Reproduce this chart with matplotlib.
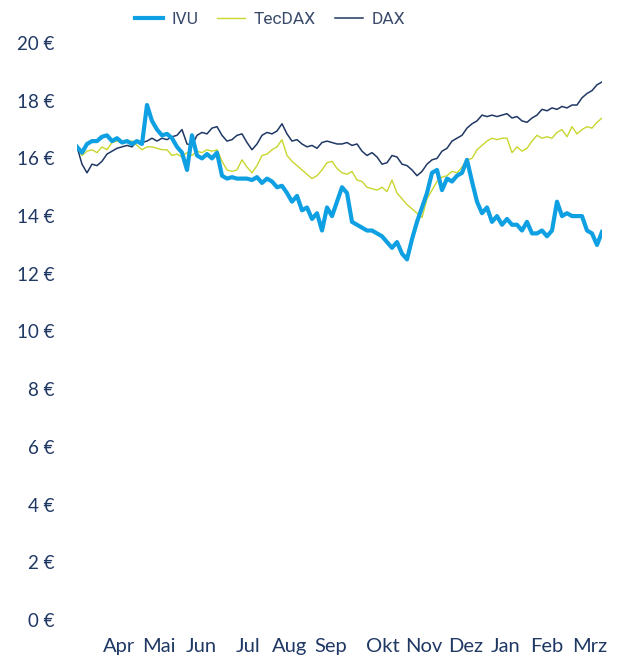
import matplotlib
matplotlib.use("Agg")
import matplotlib.pyplot as plt
import numpy as np

# ---- data (values in EUR, equally spaced observations) ----
ivu = [16.4, 16.2, 16.5, 16.6, 16.6, 16.75, 16.8, 16.6, 16.7, 16.55,
       16.6, 16.5, 16.6, 16.5, 17.85, 17.3, 17.0, 16.8, 16.85, 16.7,
       16.4, 16.2, 15.6, 16.8, 16.1, 16.0, 16.15, 16.0, 16.2, 15.4,
       15.3, 15.35, 15.3, 15.3, 15.3, 15.25, 15.35, 15.15, 15.3, 15.2,
       15.0, 15.05, 14.8, 14.5, 14.7, 14.2, 14.3, 13.9, 14.1, 13.5,
       14.3, 14.0, 14.5, 15.0, 14.8, 13.8, 13.7, 13.6, 13.5, 13.5,
       13.4, 13.3, 13.1, 12.9, 13.1, 12.7, 12.5, 13.2, 13.8, 14.3,
       14.8, 15.5, 15.6, 14.9, 15.3, 15.2, 15.4, 15.5, 15.95, 15.2,
       14.5, 14.1, 14.3, 13.8, 14.0, 13.7, 13.9, 13.7, 13.7, 13.5,
       13.8, 13.4, 13.4, 13.5, 13.3, 13.5, 14.5, 14.0, 14.1, 14.0,
       14.0, 14.0, 13.5, 13.4, 13.0, 13.45]

tecdax = [16.4, 16.1, 16.25, 16.3, 16.2, 16.4, 16.3, 16.55, 16.6, 16.55,
          16.6, 16.6, 16.45, 16.3, 16.4, 16.4, 16.35, 16.3, 16.3, 16.1,
          16.15, 16.05, 16.2, 16.1, 16.25, 16.2, 16.3, 16.25, 16.3, 15.9,
          15.6, 15.55, 15.6, 15.95, 15.7, 15.5, 15.75, 16.1, 16.15, 16.3,
          16.4, 16.65, 16.1, 15.9, 15.75, 15.6, 15.45, 15.3, 15.4, 15.6,
          15.85, 15.9, 15.65, 15.5, 15.45, 15.55, 15.25, 15.2, 15.0, 14.95,
          14.9, 15.0, 14.85, 15.25, 14.8, 14.6, 14.4, 14.25, 14.1, 13.95,
          14.6, 14.9, 15.2, 15.35, 15.4, 15.55, 15.5, 15.7, 15.95, 16.0,
          16.3, 16.45, 16.6, 16.7, 16.65, 16.7, 16.7, 16.2, 16.4, 16.25,
          16.35, 16.6, 16.8, 16.7, 16.75, 16.7, 16.9, 17.0, 16.75, 17.1,
          16.85, 17.0, 17.1, 17.05, 17.25, 17.4]

dax = [16.4, 15.8, 15.5, 15.8, 15.75, 15.9, 16.15, 16.25, 16.35, 16.4,
       16.45, 16.4, 16.6, 16.55, 16.6, 16.7, 16.6, 16.7, 16.65, 16.75,
       16.8, 17.0, 16.5, 16.45, 16.8, 16.9, 16.85, 17.05, 17.1, 16.8,
       16.6, 16.65, 16.8, 16.85, 16.55, 16.3, 16.5, 16.8, 16.9, 16.85,
       16.95, 17.2, 16.85, 16.6, 16.65, 16.5, 16.4, 16.45, 16.35, 16.55,
       16.6, 16.55, 16.5, 16.5, 16.55, 16.45, 16.5, 16.25, 16.1, 16.2,
       16.05, 15.8, 15.85, 16.1, 16.05, 15.8, 15.75, 15.6, 15.4, 15.55,
       15.8, 15.95, 16.0, 16.25, 16.35, 16.6, 16.7, 16.8, 17.05, 17.2,
       17.3, 17.5, 17.45, 17.5, 17.45, 17.5, 17.55, 17.4, 17.45, 17.3,
       17.25, 17.4, 17.5, 17.7, 17.65, 17.75, 17.7, 17.8, 17.75, 17.85,
       17.85, 18.1, 18.25, 18.35, 18.55, 18.65]

months = ["Apr", "Mai", "Jun", "Jul", "Aug", "Sep", "Okt", "Nov", "Dez", "Jan", "Feb", "Mrz"]
y_ticks = [0, 2, 4, 6, 8, 10, 12, 14, 16, 18, 20]
series_names = ["IVU", "TecDAX", "DAX"]

# ---- layout ----
month_pos = [8.4, 16.4, 24.8, 34.2, 42.6, 50.8, 61.2, 69.4, 77.8, 85.8, 94.0, 102.6]

W, H = 623, 659
fig = plt.figure(figsize=(W / 100, H / 100), dpi=100)
ax = fig.add_axes([77 / W, (H - 620) / H, 525 / W, 577 / H])

text_col = "#1f3864"
x = np.arange(len(ivu))
l1, = ax.plot(x, ivu, color="#0ea0e2", lw=3.0, solid_joinstyle="round", zorder=3)
l2, = ax.plot(np.arange(len(tecdax)), tecdax, color="#c8d62e", lw=1.0, zorder=2)
l3, = ax.plot(np.arange(len(dax)), dax, color="#1f3864", lw=1.1, zorder=2)

ax.set_xlim(0, len(ivu) - 1)
ax.set_ylim(0, 20)
ax.set_yticks(y_ticks)
ax.set_yticklabels([f"{v} €" for v in y_ticks])
ax.set_xticks(month_pos)
ax.set_xticklabels(months)
for s in ax.spines.values():
    s.set_visible(False)
ax.tick_params(axis="both", length=0, colors=text_col)
ax.tick_params(axis="y", pad=16, labelsize=13.5)
ax.tick_params(axis="x", pad=13, labelsize=14.5)
for lab in ax.get_xticklabels() + ax.get_yticklabels():
    lab.set_fontfamily(["Lato", "DejaVu Sans"])

leg = fig.legend([l1, l2, l3], series_names, loc="center",
                 bbox_to_anchor=(270 / W, 1 - 19 / H), ncol=3, frameon=False,
                 handlelength=1.6, handletextpad=0.5, columnspacing=1.1,
                 prop={"family": ["Roboto", "DejaVu Sans"], "size": 12.5})
for t in leg.get_texts():
    t.set_color("#3a4a6a")

fig.savefig("out.png", dpi=100)
